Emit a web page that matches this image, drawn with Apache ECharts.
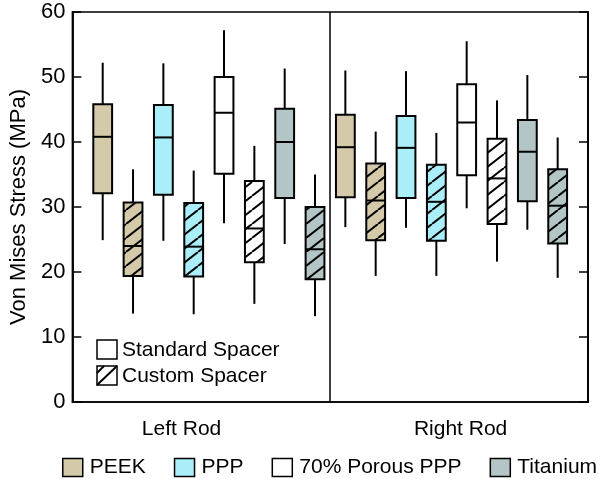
<!DOCTYPE html>
<html>
<head>
<meta charset="utf-8">
<script src="https://cdn.jsdelivr.net/npm/echarts@6/dist/echarts.min.js"></script>
<style>html,body{margin:0;padding:0;background:#fff}#c{width:600px;height:479px}</style>
</head>
<body>
<div id="c"></div>
<script>
// ---- data ----
var rods = ['Left Rod', 'Right Rod'];
var materials = ['PEEK', 'PPP', '70% Porous PPP', 'Titanium'];
var spacers = ['Standard Spacer', 'Custom Spacer'];
var yTicks = [0, 10, 20, 30, 40, 50, 60];
// each entry: [min, Q1, median, Q3, max]; index 0 = Left Rod, 1 = Right Rod
var peekStandard   = [[24.9, 32.1, 40.8, 45.8, 52.2], [26.9, 31.5, 39.2, 44.2, 51.0]];
var peekCustom     = [[13.6, 19.4, 24.0, 30.7, 35.8], [19.4, 24.9, 31.0, 36.7, 41.6]];
var pppStandard    = [[24.8, 31.9, 40.7, 45.7, 52.1], [26.8, 31.4, 39.1, 44.0, 50.9]];
var pppCustom      = [[13.5, 19.3, 23.9, 30.6, 35.6], [19.4, 24.8, 30.8, 36.5, 41.4]];
var porousStandard = [[27.5, 35.1, 44.5, 50.0, 57.2], [29.8, 34.9, 43.0, 48.9, 55.5]];
var porousCustom   = [[15.1, 21.5, 26.7, 34.0, 39.4], [21.6, 27.4, 34.4, 40.5, 46.4]];
var tiStandard     = [[24.3, 31.4, 40.0, 45.1, 51.3], [26.5, 30.9, 38.5, 43.4, 50.3]];
var tiCustom       = [[13.2, 18.9, 23.5, 30.0, 35.0], [19.1, 24.4, 30.2, 35.8, 40.7]];

var seriesValues = [
  [peekStandard, peekCustom],
  [pppStandard, pppCustom],
  [porousStandard, porousCustom],
  [tiStandard, tiCustom]
];

// ---- styles ----
var colors = ['#d4caa9', '#aaeef9', '#ffffff', '#b3c5c6'];
var FONT = '"Liberation Sans", Arial, sans-serif';
var FS = 21;
var AXFS = 22;

function makeHatch(color, w, h, lw) {
  var cv = document.createElement('canvas');
  cv.width = w; cv.height = h;
  var ctx = cv.getContext('2d');
  ctx.fillStyle = color;
  ctx.fillRect(0, 0, w, h);
  ctx.strokeStyle = '#000';
  ctx.lineWidth = lw;
  [-w, 0, w].forEach(function (dx) {
    ctx.beginPath();
    ctx.moveTo(dx, h);
    ctx.lineTo(dx + w, 0);
    ctx.stroke();
  });
  return cv;
}
var patterns = colors.map(function (c) {
  return { image: makeHatch(c, 18, 14, 2), repeat: 'repeat' };
});

var perRod = materials.length * spacers.length;
var BOXW = 0.62;

function renderItem(params, api) {
  var x = api.value(0);
  var lo = api.coord([x, api.value(1)]);
  var q1 = api.coord([x, api.value(2)]);
  var md = api.coord([x, api.value(3)]);
  var q3 = api.coord([x, api.value(4)]);
  var hi = api.coord([x, api.value(5)]);
  var w = api.size([BOXW, 0])[0];
  var hatch = api.value(6);
  var si = params.seriesIndex;
  var stroke = { stroke: '#000', lineWidth: 2 };
  return {
    type: 'group',
    children: [
      { type: 'line', shape: { x1: lo[0], y1: lo[1], x2: q1[0], y2: q1[1] }, style: stroke },
      { type: 'line', shape: { x1: q3[0], y1: q3[1], x2: hi[0], y2: hi[1] }, style: stroke },
      { type: 'rect', shape: { x: q1[0] - w / 2, y: q3[1], width: w, height: q1[1] - q3[1] },
        style: { fill: hatch ? patterns[si] : colors[si], stroke: '#000', lineWidth: 2 } },
      { type: 'line', shape: { x1: md[0] - w / 2, y1: md[1], x2: md[0] + w / 2, y2: md[1] }, style: stroke }
    ]
  };
}

var series = materials.map(function (name, mi) {
  var data = [];
  rods.forEach(function (rod, ri) {
    spacers.forEach(function (sp, si) {
      var v = seriesValues[mi][si][ri];
      var pos = ri * perRod + mi * spacers.length + si + 1;
      data.push([pos].concat(v).concat([si]));
    });
  });
  return {
    name: name,
    type: 'custom',
    renderItem: renderItem,
    itemStyle: { color: colors[mi], borderColor: '#000', borderWidth: 1.5 },
    encode: { x: 0, y: [1, 2, 3, 4, 5] },
    data: data,
    z: 3
  };
});

var chart = echarts.init(document.getElementById('c'), null, { renderer: 'canvas' });
var option = {
  animation: false,
  backgroundColor: '#fff',
  textStyle: { fontFamily: FONT },
  grid: { left: 67, right: 12, top: 12, bottom: 77, show: true, borderColor: '#000', borderWidth: 1.5 },
  xAxis: {
    type: 'value', min: 0, max: rods.length * perRod + 1, interval: (rods.length * perRod + 1) / 2,
    axisLine: { show: true, lineStyle: { color: '#000', width: 1.5 } },
    axisTick: { show: false }, axisLabel: { show: false },
    splitLine: { show: true, lineStyle: { color: '#000', width: 1.5, type: 'solid' } }
  },
  yAxis: [{
    type: 'value', min: yTicks[0], max: yTicks[yTicks.length - 1], interval: 10,
    name: 'Von Mises Stress (MPa)', nameLocation: 'middle', nameGap: 42,
    nameTextStyle: { fontSize: AXFS, color: '#000', fontFamily: FONT },
    axisLine: { show: true, lineStyle: { color: '#000', width: 1.5 } },
    axisTick: { show: true, inside: true, length: 9, lineStyle: { color: '#000', width: 1.5 } },
    axisLabel: { fontSize: AXFS, color: '#000', margin: 7, fontFamily: FONT },
    splitLine: { show: false }
  }, {
    type: 'value', position: 'right', min: yTicks[0], max: yTicks[yTicks.length - 1], interval: 10,
    axisLine: { show: true, lineStyle: { color: '#000', width: 1.5 } },
    axisTick: { show: true, inside: true, length: 9, lineStyle: { color: '#000', width: 1.5 } },
    axisLabel: { show: false }, splitLine: { show: false }
  }],
  legend: {
    left: 62, top: 457, width: 545, padding: 0, itemWidth: 20, itemHeight: 18, itemGap: 28, icon: 'rect',
    textStyle: { fontSize: FS, color: '#000', fontFamily: FONT, padding: [0, 0, 0, 2] },
    data: materials.map(function (m, i) {
      return { name: m, itemStyle: { color: colors[i], borderColor: '#000', borderWidth: 1.5 } };
    })
  },
  series: series
};
chart.setOption(option);

// rod labels and spacer key
var leftPx = chart.convertToPixel({ xAxisIndex: 0 }, 3.6);
var rightPx = chart.convertToPixel({ xAxisIndex: 0 }, perRod + 4.8);
var graphics = [
  { type: 'text', x: leftPx, y: 429, style: { text: rods[0], font: FS + 'px ' + FONT, fill: '#000', align: 'center', verticalAlign: 'middle' } },
  { type: 'text', x: rightPx, y: 429, style: { text: rods[1], font: FS + 'px ' + FONT, fill: '#000', align: 'center', verticalAlign: 'middle' } },
  { type: 'rect', shape: { x: 97, y: 340, width: 20, height: 19 }, style: { fill: '#fff', stroke: '#000', lineWidth: 1.5 } },
  { type: 'text', x: 122, y: 350, style: { text: spacers[0], font: FS + 'px ' + FONT, fill: '#000', verticalAlign: 'middle' } },
  { type: 'rect', shape: { x: 97, y: 366, width: 20, height: 19 }, style: { fill: '#fff', stroke: '#000', lineWidth: 1.5 } },
  { type: 'line', shape: { x1: 97, y1: 385, x2: 117, y2: 366 }, style: { stroke: '#000', lineWidth: 2 } },
  { type: 'line', shape: { x1: 97, y1: 373, x2: 104, y2: 366 }, style: { stroke: '#000', lineWidth: 2 } },
  { type: 'text', x: 122, y: 376, style: { text: spacers[1], font: FS + 'px ' + FONT, fill: '#000', verticalAlign: 'middle' } }
];
chart.setOption({ graphic: graphics });
</script>
</body>
</html>
